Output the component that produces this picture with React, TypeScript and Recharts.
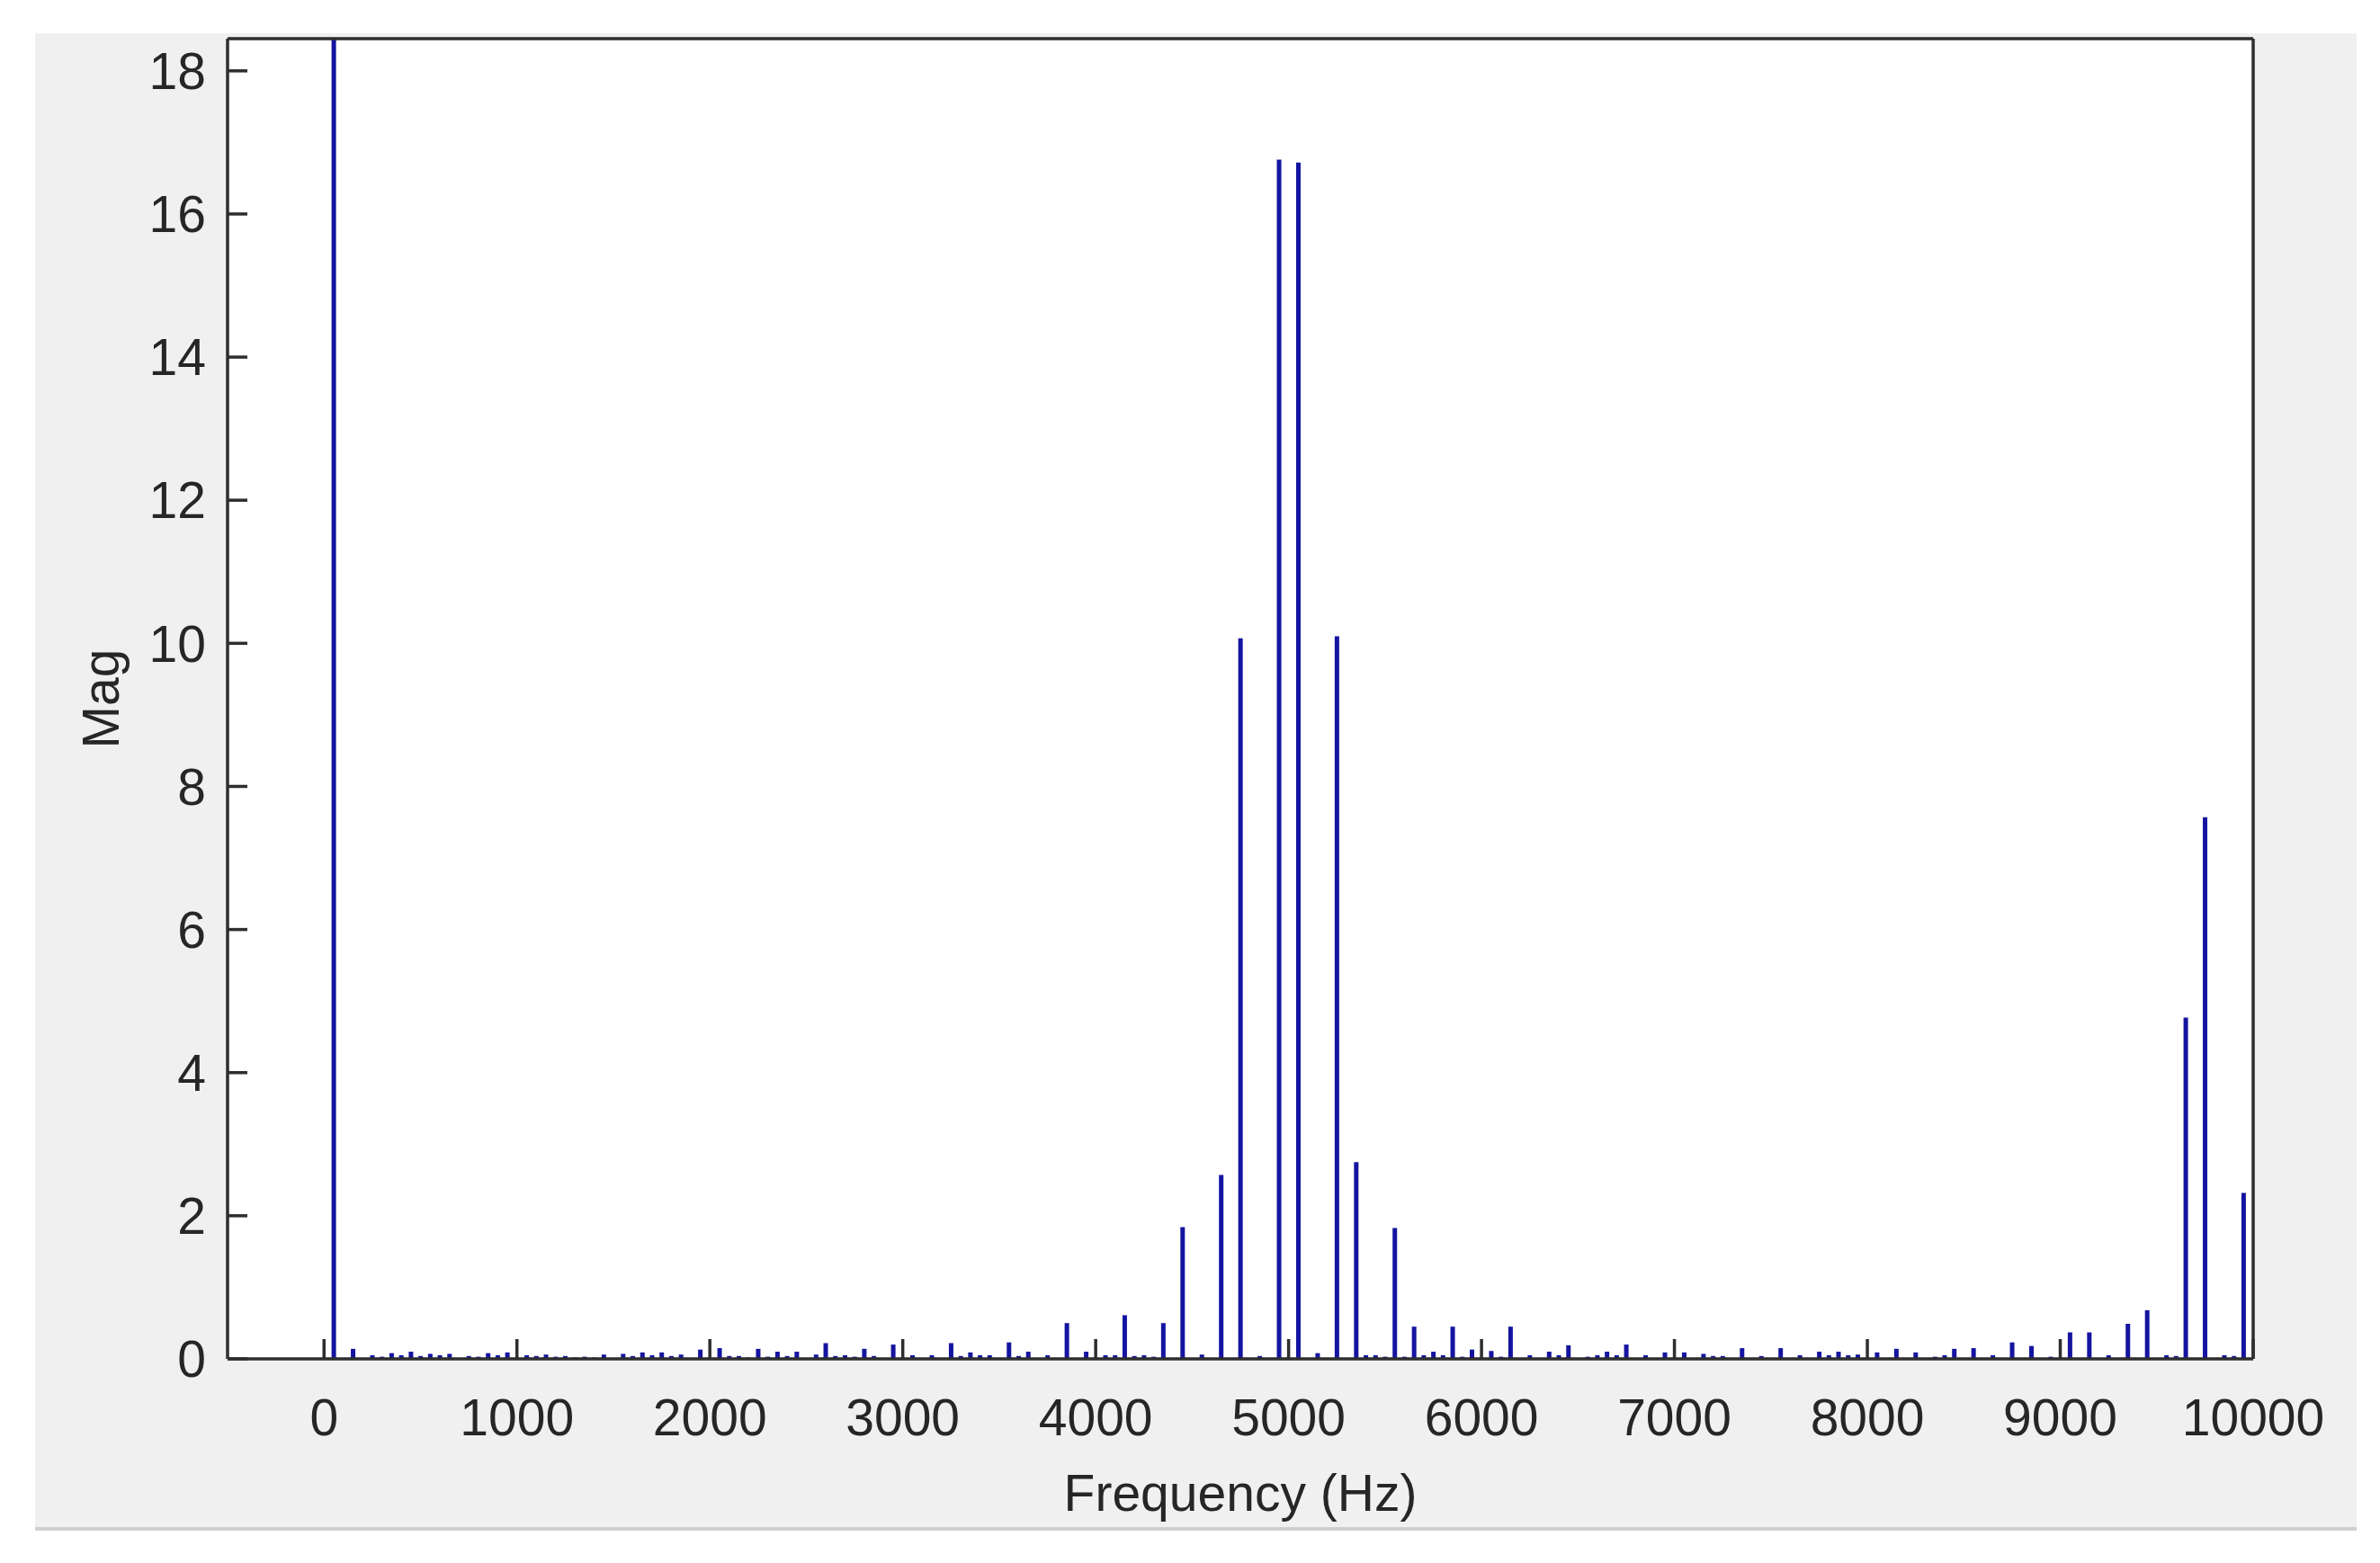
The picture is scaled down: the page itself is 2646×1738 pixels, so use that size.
import React from 'react';
import { BarChart, Bar, XAxis, YAxis, CartesianGrid, Label } from 'recharts';

// Frequency bins (Hz) that carry a visible magnitude
const freqHz = [
  50, 150, 250, 300, 350, 400, 450, 500, 550, 600, 650, 750, 800, 850, 900, 950,
  1050, 1100, 1150, 1200, 1250, 1300, 1350, 1400, 1450, 1550, 1600, 1650, 1700, 1750, 1800, 1850, 1950,
  2050, 2100, 2150, 2200, 2250, 2300, 2350, 2400, 2450, 2550, 2600, 2650, 2700, 2750, 2800, 2850, 2950,
  3050, 3150, 3250, 3300, 3350, 3400, 3450, 3550, 3600, 3650, 3750, 3850, 3950,
  4050, 4100, 4150, 4200, 4250, 4300, 4350, 4450, 4550, 4650, 4750, 4850, 4950,
  5050, 5150, 5250, 5350, 5400, 5450, 5500, 5550, 5600, 5650, 5700, 5750, 5800, 5850, 5900, 5950,
  6050, 6100, 6150, 6250, 6350, 6400, 6450, 6550, 6600, 6650, 6700, 6750, 6850, 6950,
  7050, 7150, 7200, 7250, 7350, 7450, 7550, 7650, 7750, 7800, 7850, 7900, 7950,
  8050, 8150, 8250, 8350, 8400, 8450, 8550, 8650, 8750, 8850, 8950,
  9050, 9150, 9250, 9350, 9450, 9550, 9600, 9650, 9750, 9850, 9900, 9950,
];

// Magnitudes (DC bin runs off the top of the axes)
const magnitude = [
  25, 0.14, 0.05, 0.03, 0.08, 0.05, 0.10, 0.04, 0.07, 0.05, 0.07, 0.04, 0.03, 0.08, 0.05, 0.09,
  0.05, 0.04, 0.06, 0.03, 0.04, 0.02, 0.03, 0.02, 0.06, 0.07, 0.04, 0.09, 0.05, 0.09, 0.04, 0.06, 0.13,
  0.15, 0.04, 0.04, 0.02, 0.14, 0.03, 0.10, 0.04, 0.10, 0.06, 0.22, 0.04, 0.05, 0.03, 0.14, 0.04, 0.20,
  0.05, 0.05, 0.22, 0.04, 0.09, 0.05, 0.05, 0.23, 0.04, 0.10, 0.05, 0.50, 0.10,
  0.05, 0.05, 0.61, 0.04, 0.05, 0.03, 0.50, 1.84, 0.06, 2.57, 10.07, 0.04, 16.76,
  16.72, 0.08, 10.1, 2.75, 0.05, 0.05, 0.03, 1.83, 0.03, 0.45, 0.05, 0.10, 0.05, 0.45, 0.03, 0.13,
  0.11, 0.03, 0.45, 0.05, 0.10, 0.05, 0.19, 0.03, 0.05, 0.10, 0.05, 0.20, 0.05, 0.09,
  0.09, 0.07, 0.04, 0.04, 0.15, 0.04, 0.15, 0.05, 0.10, 0.05, 0.10, 0.05, 0.06,
  0.09, 0.14, 0.09, 0.03, 0.05, 0.14, 0.15, 0.05, 0.23, 0.18, 0.03,
  0.37, 0.37, 0.05, 0.49, 0.68, 0.05, 0.04, 4.77, 7.57, 0.05, 0.04, 2.32,
];

const xTicks = [0, 1000, 2000, 3000, 4000, 5000, 6000, 7000, 8000, 9000, 10000];
const yTicks = [0, 2, 4, 6, 8, 10, 12, 14, 16, 18];
const xDomain = [-500, 10000];
const yDomain = [0, 18.45];
const xLabel = 'Frequency (Hz)';
const yLabel = 'Mag';

const data = freqHz.map((f, i) => ({ f, mag: magnitude[i] }));

const W = 2646;
const H = 1738;
const FONT = '"Liberation Sans", Arial, Helvetica, sans-serif';
const INK = '#262626';
const AXIS = '#2e2e2e';
const BAR = '#1414a0';

const tickStyle = { fill: INK, fontSize: 57, fontFamily: FONT };
const lineStyle = { stroke: AXIS, strokeWidth: 3.5 };

const YLabel = (props: any) => {
  const vb = props.viewBox || { x: 0, y: 0, width: 0, height: 0 };
  const x = vb.x + 132;
  const y = vb.y + vb.height / 2;
  return (
    <text
      x={x}
      y={y}
      transform={`rotate(-90 ${x} ${y})`}
      textAnchor="middle"
      fill={INK}
      fontSize={57}
      fontFamily={FONT}
    >
      {yLabel}
    </text>
  );
};

export default function App() {
  return (
    <div
      style={{
        position: 'absolute',
        left: 0,
        top: 0,
        width: W,
        height: H,
        background: '#ffffff',
        overflow: 'hidden',
      }}
    >
      <div
        style={{
          position: 'absolute',
          left: 39,
          top: 37,
          width: 2581,
          height: 1661,
          background: '#f0f0f0',
          borderBottom: '4px solid #d0d0d0',
        }}
      />
      <div style={{ position: 'absolute', left: 0, top: 0 }}>
        <BarChart
          width={W}
          height={H}
          data={data}
          margin={{ top: 0, right: 0, bottom: 0, left: 0 }}
        >
          <CartesianGrid
            xAxisId="b"
            yAxisId="l"
            horizontal={false}
            vertical={false}
            fill="#ffffff"
            fillOpacity={1}
          />
          <XAxis
            xAxisId="b"
            dataKey="f"
            type="number"
            orientation="bottom"
            domain={xDomain}
            ticks={xTicks}
            interval={0}
            allowDataOverflow
            height={227}
            tickSize={-22}
            tickMargin={67}
            tick={tickStyle}
            axisLine={lineStyle}
            tickLine={lineStyle}
          >
            <Label
              value={xLabel}
              position="insideBottom"
              offset={58}
              fill={INK}
              fontSize={57}
              fontFamily={FONT}
            />
          </XAxis>
          <XAxis
            xAxisId="t"
            dataKey="f"
            type="number"
            orientation="top"
            domain={xDomain}
            ticks={xTicks}
            interval={0}
            allowDataOverflow
            height={43}
            tickSize={-22}
            tick={false}
            axisLine={lineStyle}
            tickLine={lineStyle}
          />
          <YAxis
            yAxisId="l"
            type="number"
            orientation="left"
            domain={yDomain}
            ticks={yTicks}
            interval={0}
            allowDataOverflow
            width={253}
            tickSize={-22}
            tickMargin={46}
            tick={tickStyle}
            axisLine={lineStyle}
            tickLine={lineStyle}
          >
            <Label content={<YLabel />} />
          </YAxis>
          <YAxis
            yAxisId="r"
            type="number"
            orientation="right"
            domain={yDomain}
            ticks={yTicks}
            interval={0}
            allowDataOverflow
            width={141}
            tickSize={-22}
            tick={false}
            axisLine={lineStyle}
            tickLine={lineStyle}
          />
          <Bar
            dataKey="mag"
            xAxisId="b"
            yAxisId="l"
            fill={BAR}
            barSize={5}
            isAnimationActive={false}
          />
        </BarChart>
      </div>
    </div>
  );
}
